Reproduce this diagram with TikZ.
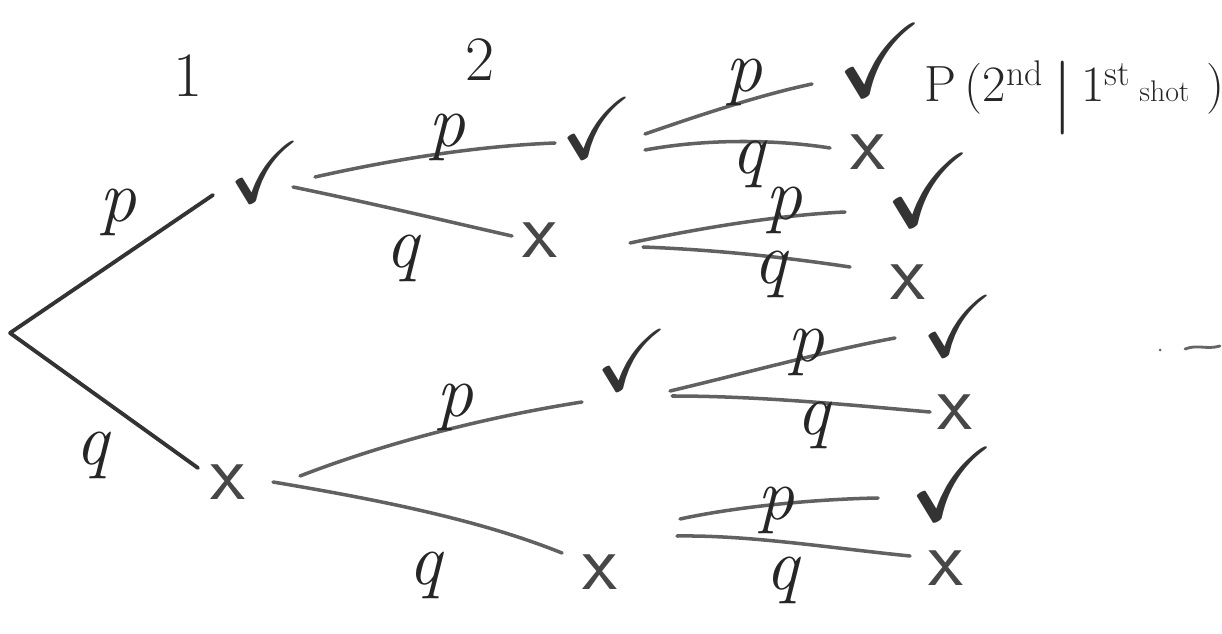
\documentclass[tikz,border=0pt]{standalone}
\usepackage{amssymb}
\usepackage{fontspec}
\begin{document}
\begin{tikzpicture}[x=0.02cm,y=-0.02cm,
  pen/.style={line width=2.2pt,line cap=round,draw=black!80},
  penl/.style={line width=2pt,line cap=round,draw=black!62},
  lab/.style={font=\fontsize{42}{48}\selectfont\itshape,text=black!85,inner sep=0pt},
  ok/.style={font=\fontsize{50}{54}\selectfont,text=black!80,inner sep=0pt},
  okbig/.style={font=\fontsize{60}{64}\selectfont,text=black!80,inner sep=0pt},
  no/.style={font=\sffamily\fontsize{46}{50}\selectfont,text=black!72,inner sep=0pt},
  hdr/.style={font=\fontsize{36}{40}\selectfont,text=black!85,inner sep=0pt}]
\useasboundingbox (0,0) rectangle (1222,634);
\fill[white] (0,0) rectangle (1222,634);

% headers
\node[hdr] (h1) at (188,76) {1};
\node[hdr] (h2) at (480,60) {2};
\node[hdr,font=\fontsize{29}{32}\selectfont,anchor=west] (title) at (924,98)
  {P\,(2\textsuperscript{nd}\,\raisebox{-0.3em}{\fontsize{42}{44}\selectfont|}\,1\textsuperscript{st}\,{\fontsize{17}{19}\selectfont shot}\,\,)};

% outcome nodes
\coordinate (root) at (10,333);
\node[ok] (c1) at (265,172) {$\checkmark$};
\node[no] (x1) at (228,482) {x};
\node[ok] (c2) at (597,128) {$\checkmark$};
\node[no] (x2) at (540,240) {x};
\node[ok] (c3) at (632,360) {$\checkmark$};
\node[no] (x3) at (600,572) {x};
\node[okbig] (c4) at (880,60) {$\checkmark$};
\node[no] (x4) at (868,152) {x};
\node[okbig] (c5) at (928,190) {$\checkmark$};
\node[no] (x5) at (908,282) {x};
\node[ok] (c6) at (958,326) {$\checkmark$};
\node[no] (x6) at (955,412) {x};
\node[okbig] (c7) at (952,484) {$\checkmark$};
\node[no] (x7) at (946,568) {x};

% connector end points
\coordinate (a1) at (213,195);  \coordinate (a2) at (198,468);
\coordinate (b1s) at (315,177); \coordinate (b1e) at (555,143);
\coordinate (b2s) at (293,187); \coordinate (b2e) at (512,236);
\coordinate (b3s) at (300,476); \coordinate (b3e) at (582,402);
\coordinate (b4s) at (273,482); \coordinate (b4e) at (562,553);
\coordinate (d1s) at (645,134); \coordinate (d1e) at (812,84);
\coordinate (d2s) at (645,150); \coordinate (d2e) at (830,148);
\coordinate (d3s) at (630,243); \coordinate (d3e) at (845,212);
\coordinate (d4s) at (643,247); \coordinate (d4e) at (850,267);
\coordinate (d5s) at (670,391); \coordinate (d5e) at (895,338);
\coordinate (d6s) at (672,396); \coordinate (d6e) at (930,412);
\coordinate (d7s) at (680,519); \coordinate (d7e) at (878,498);
\coordinate (d8s) at (677,536); \coordinate (d8e) at (910,556);

% level 1
\draw[pen] (root) -- (a1);
\draw[pen] (root) -- (a2);
\node[lab] (l1) at (118,212) {p};
\node[lab] (l2) at (92,455) {q};

% level 2
\draw[penl] (b1s) .. controls (400,158) and (480,146) .. (b1e);
\draw[penl] (b2s) .. controls (380,205) and (450,222) .. (b2e);
\draw[penl] (b3s) .. controls (380,445) and (480,418) .. (b3e);
\draw[penl] (b4s) .. controls (380,500) and (480,520) .. (b4e);
\node[lab] (l3) at (447,137) {p};
\node[lab] (l4) at (402,258) {q};
\node[lab] (l5) at (455,407) {p};
\node[lab] (l6) at (425,575) {q};

% level 3
\draw[penl] (d1s) .. controls (700,115) and (760,95) .. (d1e);
\draw[penl] (d2s) .. controls (710,138) and (780,140) .. (d2e);
\draw[penl] (d3s) .. controls (700,228) and (780,215) .. (d3e);
\draw[penl] (d4s) .. controls (720,250) and (790,258) .. (d4e);
\draw[penl] (d5s) .. controls (750,372) and (830,350) .. (d5e);
\draw[penl] (d6s) .. controls (760,396) and (850,405) .. (d6e);
\draw[penl] (d7s) .. controls (740,506) and (820,499) .. (d7e);
\draw[penl] (d8s) .. controls (750,535) and (830,548) .. (d8e);
\node[lab] (l7) at (744,82) {p};
\node[lab] (l8) at (748,164) {q};
\node[lab] (l9) at (784,210) {p};
\node[lab] (l10) at (770,274) {q};
\node[lab] (l11) at (806,352) {p};
\node[lab] (l12) at (813,425) {q};
\node[lab] (l13) at (776,510) {p};
\node[lab] (l14) at (782,580) {q};

% stray marks at the right
\coordinate (s1) at (1185,349); \coordinate (s2) at (1220,346);
\draw[line width=1.6pt,draw=black!60,line cap=round] (s1) .. controls (1198,344) and (1206,350) .. (s2);
\fill[black!60] (1160,350) circle (1.5);
\end{tikzpicture}
\end{document}
